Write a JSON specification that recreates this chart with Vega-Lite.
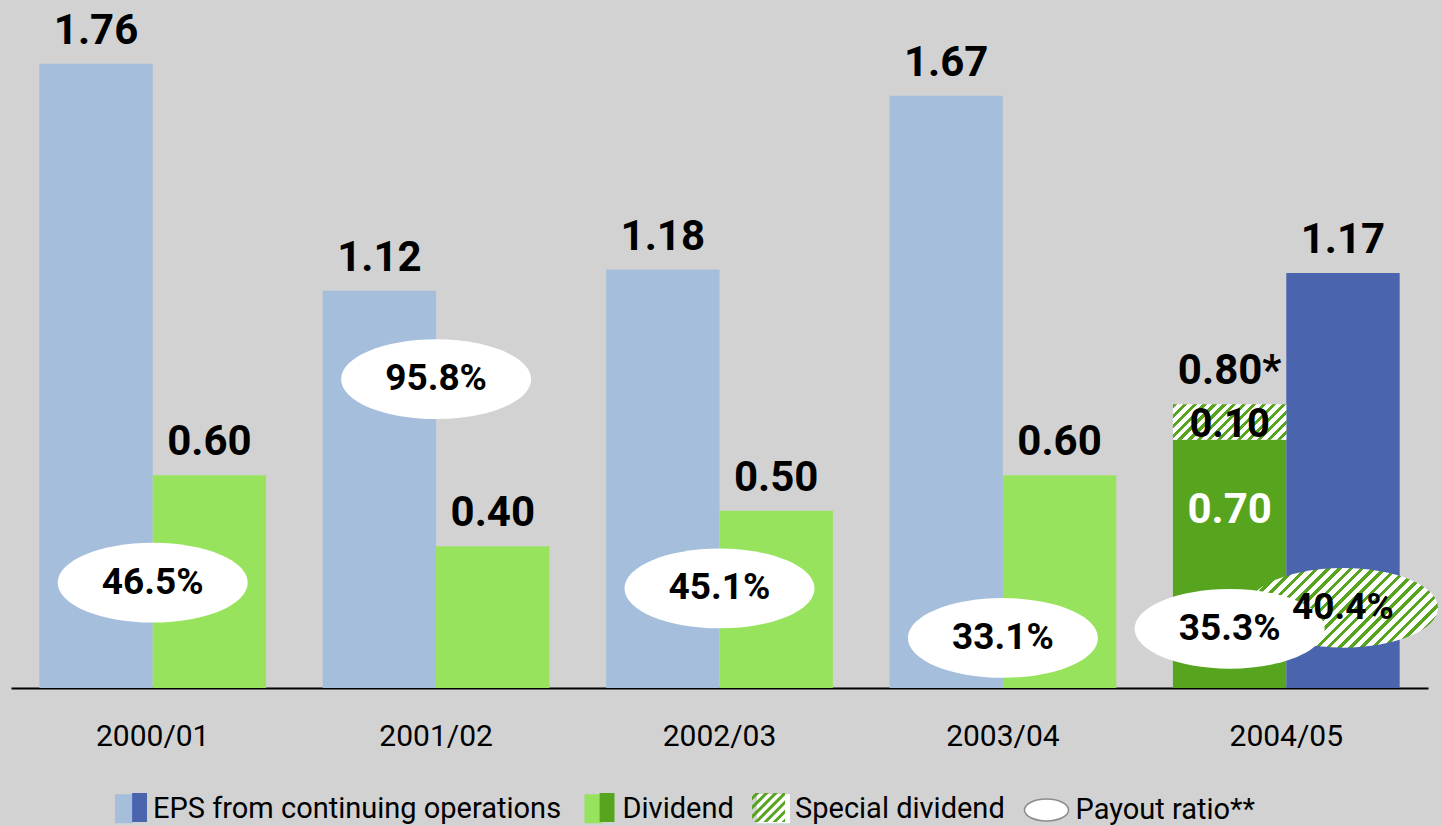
{
  "$schema": "https://vega.github.io/schema/vega-lite/v6.json",
  "width": 1417,
  "height": 688,
  "autosize": "none",
  "padding": {"left": 11, "top": 0, "right": 14, "bottom": 138},
  "background": "#d2d2d2",
  "config": {
    "view": {"stroke": null},
    "font": "Roboto",
    "axisX": {"domainColor": "black", "domainWidth": 2, "ticks": false, "tickSize": 0, "labelFontSize": 30, "labelColor": "black", "labelPadding": 33, "labelAngle": 0, "labelFont": "Roboto", "grid": false}
  },
  "datasets": {
    "bars": [
      {"year": "2000/01", "slot": "L", "part": "EPS", "shade": "EPS", "value": 1.76},
      {"year": "2000/01", "slot": "R", "part": "Dividend", "shade": "Dividend", "value": 0.60},
      {"year": "2001/02", "slot": "L", "part": "EPS", "shade": "EPS", "value": 1.12},
      {"year": "2001/02", "slot": "R", "part": "Dividend", "shade": "Dividend", "value": 0.40},
      {"year": "2002/03", "slot": "L", "part": "EPS", "shade": "EPS", "value": 1.18},
      {"year": "2002/03", "slot": "R", "part": "Dividend", "shade": "Dividend", "value": 0.50},
      {"year": "2003/04", "slot": "L", "part": "EPS", "shade": "EPS", "value": 1.67},
      {"year": "2003/04", "slot": "R", "part": "Dividend", "shade": "Dividend", "value": 0.60},
      {"year": "2004/05", "slot": "L", "part": "Dividend", "shade": "Dividend 2004/05", "value": 0.70},
      {"year": "2004/05", "slot": "L", "part": "Special dividend", "shade": "Special dividend", "value": 0.10},
      {"year": "2004/05", "slot": "R", "part": "EPS", "shade": "EPS 2004/05", "value": 1.17}
    ],
    "tops": [
      {"year": "2000/01", "slot": "L", "total": 1.76, "label": "1.76"},
      {"year": "2000/01", "slot": "R", "total": 0.60, "label": "0.60"},
      {"year": "2001/02", "slot": "L", "total": 1.12, "label": "1.12"},
      {"year": "2001/02", "slot": "R", "total": 0.40, "label": "0.40"},
      {"year": "2002/03", "slot": "L", "total": 1.18, "label": "1.18"},
      {"year": "2002/03", "slot": "R", "total": 0.50, "label": "0.50"},
      {"year": "2003/04", "slot": "L", "total": 1.67, "label": "1.67"},
      {"year": "2003/04", "slot": "R", "total": 0.60, "label": "0.60"},
      {"year": "2004/05", "slot": "L", "total": 0.80, "label": "0.80*"},
      {"year": "2004/05", "slot": "R", "total": 1.17, "label": "1.17"}
    ],
    "inside": [
      {"year": "2004/05", "slot": "L", "segment": "Special dividend", "top": 0.80, "label": "0.10"},
      {"year": "2004/05", "slot": "L", "segment": "Dividend", "top": 0.70, "label": "0.70"}
    ],
    "payout": [
      {"year": "2000/01", "slot": "C", "basis": "regular", "ratio": 0.465},
      {"year": "2001/02", "slot": "C", "basis": "regular", "ratio": 0.958},
      {"year": "2002/03", "slot": "C", "basis": "regular", "ratio": 0.451},
      {"year": "2003/04", "slot": "C", "basis": "regular", "ratio": 0.331},
      {"year": "2004/05", "slot": "R", "basis": "incl. special", "ratio": 0.404},
      {"year": "2004/05", "slot": "L", "basis": "regular", "ratio": 0.353}
    ],
    "legend": [
      {"entry": "EPS from continuing operations"},
      {"entry": "Dividend"},
      {"entry": "Special dividend"},
      {"entry": "Payout ratio**"}
    ]
  },
  "layer": [
    {
      "layer": [
        {
          "data": {"name": "bars"},
          "transform": [
            {"stack": "value", "groupby": ["year", "slot"], "sort": [{"field": "part", "order": "ascending"}], "as": ["v0", "v1"]},
            {"filter": "datum.part !== 'Special dividend'"}
          ],
          "mark": {"type": "bar"},
          "encoding": {
            "x": {"field": "year", "type": "nominal", "title": null, "scale": {"paddingInner": 0.2, "paddingOuter": 0.1}},
            "xOffset": {"field": "slot", "type": "nominal", "scale": {"domain": ["L", "R"], "paddingInner": 0, "paddingOuter": 0}},
            "y": {"field": "v1", "type": "quantitative", "scale": {"domain": [0, 1.94], "nice": false, "zero": true}, "axis": null},
            "y2": {"field": "v0"},
            "fill": {
              "field": "shade", "type": "nominal", "legend": null,
              "scale": {
                "domain": ["EPS", "EPS 2004/05", "Dividend", "Dividend 2004/05"],
                "range": ["#a5bedc", "#4a64ad", "#98e35d", "#57a41e"]
              }
            }
          }
        },
        {
          "data": {"name": "bars"},
          "transform": [
            {"stack": "value", "groupby": ["year", "slot"], "sort": [{"field": "part", "order": "ascending"}], "as": ["v0", "v1"]},
            {"filter": "datum.part === 'Special dividend'"}
          ],
          "mark": {"type": "bar",
            "fill": {"gradient": "linear", "x1": 0, "y1": 0, "x2": 1.196, "y2": 0.374, "stops": [
              {"offset": 0, "color": "#57a41e"}, {"offset": 0.028, "color": "#57a41e"}, {"offset": 0.028, "color": "#ffffff"}, {"offset": 0.0667, "color": "#ffffff"},
              {"offset": 0.0667, "color": "#57a41e"}, {"offset": 0.0947, "color": "#57a41e"}, {"offset": 0.0947, "color": "#ffffff"}, {"offset": 0.1333, "color": "#ffffff"},
              {"offset": 0.1333, "color": "#57a41e"}, {"offset": 0.1613, "color": "#57a41e"}, {"offset": 0.1613, "color": "#ffffff"}, {"offset": 0.2, "color": "#ffffff"},
              {"offset": 0.2, "color": "#57a41e"}, {"offset": 0.228, "color": "#57a41e"}, {"offset": 0.228, "color": "#ffffff"}, {"offset": 0.2667, "color": "#ffffff"},
              {"offset": 0.2667, "color": "#57a41e"}, {"offset": 0.2947, "color": "#57a41e"}, {"offset": 0.2947, "color": "#ffffff"}, {"offset": 0.3333, "color": "#ffffff"},
              {"offset": 0.3333, "color": "#57a41e"}, {"offset": 0.3613, "color": "#57a41e"}, {"offset": 0.3613, "color": "#ffffff"}, {"offset": 0.4, "color": "#ffffff"},
              {"offset": 0.4, "color": "#57a41e"}, {"offset": 0.428, "color": "#57a41e"}, {"offset": 0.428, "color": "#ffffff"}, {"offset": 0.4667, "color": "#ffffff"},
              {"offset": 0.4667, "color": "#57a41e"}, {"offset": 0.4947, "color": "#57a41e"}, {"offset": 0.4947, "color": "#ffffff"}, {"offset": 0.5333, "color": "#ffffff"},
              {"offset": 0.5333, "color": "#57a41e"}, {"offset": 0.5613, "color": "#57a41e"}, {"offset": 0.5613, "color": "#ffffff"}, {"offset": 0.6, "color": "#ffffff"},
              {"offset": 0.6, "color": "#57a41e"}, {"offset": 0.628, "color": "#57a41e"}, {"offset": 0.628, "color": "#ffffff"}, {"offset": 0.6667, "color": "#ffffff"},
              {"offset": 0.6667, "color": "#57a41e"}, {"offset": 0.6947, "color": "#57a41e"}, {"offset": 0.6947, "color": "#ffffff"}, {"offset": 0.7333, "color": "#ffffff"},
              {"offset": 0.7333, "color": "#57a41e"}, {"offset": 0.7613, "color": "#57a41e"}, {"offset": 0.7613, "color": "#ffffff"}, {"offset": 0.8, "color": "#ffffff"},
              {"offset": 0.8, "color": "#57a41e"}, {"offset": 0.828, "color": "#57a41e"}, {"offset": 0.828, "color": "#ffffff"}, {"offset": 0.8667, "color": "#ffffff"},
              {"offset": 0.8667, "color": "#57a41e"}, {"offset": 0.8947, "color": "#57a41e"}, {"offset": 0.8947, "color": "#ffffff"}, {"offset": 0.9333, "color": "#ffffff"},
              {"offset": 0.9333, "color": "#57a41e"}, {"offset": 0.9613, "color": "#57a41e"}, {"offset": 0.9613, "color": "#ffffff"}, {"offset": 1, "color": "#ffffff"}
            ]}
          },
          "encoding": {
            "x": {"field": "year", "type": "nominal", "title": null},
            "xOffset": {"field": "slot", "type": "nominal"},
            "y": {"field": "v1", "type": "quantitative", "axis": null},
            "y2": {"field": "v0"}
          }
        },
        {
          "data": {"name": "tops"},
          "mark": {"type": "text", "font": "Roboto", "fontSize": 42, "fontWeight": "bold", "dy": -20, "baseline": "alphabetic", "align": "center", "color": "black"},
          "encoding": {
            "x": {"field": "year", "type": "nominal", "title": null},
            "xOffset": {"field": "slot", "type": "nominal"},
            "y": {"field": "total", "type": "quantitative", "axis": null},
            "text": {"field": "label"}
          }
        },
        {
          "data": {"name": "inside"},
          "transform": [{"filter": "datum.segment === 'Special dividend'"}],
          "mark": {"type": "text", "font": "Roboto", "fontSize": 40, "fontWeight": "bold", "dy": 1, "baseline": "top", "align": "center", "color": "black"},
          "encoding": {
            "x": {"field": "year", "type": "nominal", "title": null},
            "xOffset": {"field": "slot", "type": "nominal"},
            "y": {"field": "top", "type": "quantitative", "axis": null},
            "text": {"field": "label"}
          }
        },
        {
          "data": {"name": "inside"},
          "transform": [{"filter": "datum.segment === 'Dividend'"}],
          "mark": {"type": "text", "font": "Roboto", "fontSize": 42, "fontWeight": "bold", "dy": 50, "baseline": "top", "align": "center", "color": "white"},
          "encoding": {
            "x": {"field": "year", "type": "nominal", "title": null},
            "xOffset": {"field": "slot", "type": "nominal"},
            "y": {"field": "top", "type": "quantitative", "axis": null},
            "text": {"field": "label"}
          }
        },
        {
          "data": {"name": "legend"},
          "mark": {"type": "point", "filled": true, "opacity": 1, "clip": true},
          "encoding": {
            "y": {"datum": -1, "type": "quantitative", "axis": null},
            "color": {
              "field": "entry", "type": "nominal",
              "scale": {
                "domain": ["EPS from continuing operations", "Dividend", "Special dividend", "Payout ratio**"],
                "range": ["#a5bedc", "#98e35d", "#ffffff", "#ffffff"]
              },
              "legend": {
                "orient": "none", "legendX": 96.5, "legendY": 784.5, "direction": "horizontal", "title": null,
                "labelFont": "Roboto", "labelFontSize": 29, "labelColor": "black", "labelOffset": -2.5, "labelLimit": 0,
                "symbolSize": 2116, "symbolOpacity": 1, "symbolStrokeWidth": 1.5, "columnPadding": 15.5, "padding": 0
              }
            },
            "shape": {
              "field": "entry", "type": "nominal",
              "scale": {
                "domain": ["EPS from continuing operations", "Dividend", "Special dividend", "Payout ratio**"],
                "range": ["M-0.717,-0.63H0.07V0.63H-0.717Z", "M-0.717,-0.63H0.07V0.63H-0.717Z", "M-0.717,-0.63H0.717V0.63H-0.717Z", "M-1.283,0A0.957,0.478,0,1,1,0.631,0A0.957,0.478,0,1,1,-1.283,0Z"]
              }
            },
            "stroke": {
              "field": "entry", "type": "nominal",
              "scale": {
                "domain": ["EPS from continuing operations", "Dividend", "Special dividend", "Payout ratio**"],
                "range": ["transparent", "transparent", "transparent", "#8c8c8c"]
              }
            }
          }
        },
        {
          "data": {"name": "legend"},
          "mark": {"type": "point", "filled": true, "opacity": 1, "clip": true},
          "encoding": {
            "y": {"datum": -1, "type": "quantitative", "axis": null},
            "fill": {
              "field": "entry", "type": "nominal",
              "scale": {
                "domain": ["Dividend", "EPS from continuing operations", "Payout ratio**", "Special dividend"],
                "range": ["#57a41e", "#4a64ad", "transparent", "#57a41e"]
              },
              "legend": {
                "values": ["EPS from continuing operations", "Dividend", "Special dividend", "Payout ratio**"],
                "orient": "none", "legendX": 96.5, "legendY": 784.5, "direction": "horizontal", "title": null,
                "labelFont": "Roboto", "labelFontSize": 29, "labelColor": "black", "labelOpacity": 0, "labelOffset": -2.5, "labelLimit": 0,
                "symbolSize": 2116, "symbolOpacity": 1, "symbolStrokeWidth": 0, "columnPadding": 15.5, "padding": 0
              }
            },
            "shape": {
              "field": "entry", "type": "nominal",
              "scale": {
                "domain": ["Dividend", "EPS from continuing operations", "Payout ratio**", "Special dividend"],
                "range": [
                  "M0.07,-0.63H0.717V0.63H0.07Z",
                  "M0.07,-0.63H0.717V0.63H0.07Z",
                  "M0,0L0.01,0L0,0.01Z",
                  "M-0.57,-0.63L-0.39,-0.63L-0.717,-0.303L-0.717,-0.483ZM-0.17,-0.63L0.01,-0.63L-0.717,0.097L-0.717,-0.083ZM0.23,-0.63L0.41,-0.63L-0.717,0.497L-0.717,0.317ZM0.63,-0.63L0.717,-0.63L0.717,-0.537L-0.45,0.63L-0.63,0.63ZM0.717,-0.317L0.717,-0.137L-0.05,0.63L-0.23,0.63ZM0.717,0.083L0.717,0.263L0.35,0.63L0.17,0.63ZM0.57,0.63L0.717,0.483L0.717,0.63Z"
                ]
              }
            }
          }
        }
      ],
      "resolve": {"scale": {"fill": "independent", "shape": "independent", "color": "independent", "stroke": "independent"}}
    },
    {
      "layer": [
        {
          "data": {"name": "payout"},
          "transform": [{"filter": "datum.slot === 'C'"}],
          "mark": {"type": "point", "shape": "M-1,0A1,0.42,0,1,1,1,0A1,0.42,0,1,1,-1,0Z", "size": 36100, "filled": true, "fill": "#ffffff", "opacity": 1, "strokeWidth": 0},
          "encoding": {
            "x": {"field": "year", "type": "nominal", "title": null},
            "y": {"field": "ratio", "type": "quantitative", "scale": {"domain": [0.2097, 1.877], "zero": false, "nice": false}, "axis": null}
          }
        },
        {
          "data": {"name": "payout"},
          "transform": [{"filter": "datum.basis === 'incl. special'"}],
          "mark": {"type": "point", "shape": "M-1,0A1,0.42,0,1,1,1,0A1,0.42,0,1,1,-1,0Z", "size": 36100, "filled": true, "opacity": 1, "strokeWidth": 0,
            "fill": {"gradient": "linear", "x1": 0, "y1": 0, "x2": 1.207, "y2": 0.507, "stops": [
              {"offset": 0, "color": "#57a41e"}, {"offset": 0.0167, "color": "#57a41e"}, {"offset": 0.0167, "color": "#ffffff"}, {"offset": 0.0417, "color": "#ffffff"},
              {"offset": 0.0417, "color": "#57a41e"}, {"offset": 0.0583, "color": "#57a41e"}, {"offset": 0.0583, "color": "#ffffff"}, {"offset": 0.0833, "color": "#ffffff"},
              {"offset": 0.0833, "color": "#57a41e"}, {"offset": 0.1, "color": "#57a41e"}, {"offset": 0.1, "color": "#ffffff"}, {"offset": 0.125, "color": "#ffffff"},
              {"offset": 0.125, "color": "#57a41e"}, {"offset": 0.1417, "color": "#57a41e"}, {"offset": 0.1417, "color": "#ffffff"}, {"offset": 0.1667, "color": "#ffffff"},
              {"offset": 0.1667, "color": "#57a41e"}, {"offset": 0.1833, "color": "#57a41e"}, {"offset": 0.1833, "color": "#ffffff"}, {"offset": 0.2083, "color": "#ffffff"},
              {"offset": 0.2083, "color": "#57a41e"}, {"offset": 0.225, "color": "#57a41e"}, {"offset": 0.225, "color": "#ffffff"}, {"offset": 0.25, "color": "#ffffff"},
              {"offset": 0.25, "color": "#57a41e"}, {"offset": 0.2667, "color": "#57a41e"}, {"offset": 0.2667, "color": "#ffffff"}, {"offset": 0.2917, "color": "#ffffff"},
              {"offset": 0.2917, "color": "#57a41e"}, {"offset": 0.3083, "color": "#57a41e"}, {"offset": 0.3083, "color": "#ffffff"}, {"offset": 0.3333, "color": "#ffffff"},
              {"offset": 0.3333, "color": "#57a41e"}, {"offset": 0.35, "color": "#57a41e"}, {"offset": 0.35, "color": "#ffffff"}, {"offset": 0.375, "color": "#ffffff"},
              {"offset": 0.375, "color": "#57a41e"}, {"offset": 0.3917, "color": "#57a41e"}, {"offset": 0.3917, "color": "#ffffff"}, {"offset": 0.4167, "color": "#ffffff"},
              {"offset": 0.4167, "color": "#57a41e"}, {"offset": 0.4333, "color": "#57a41e"}, {"offset": 0.4333, "color": "#ffffff"}, {"offset": 0.4583, "color": "#ffffff"},
              {"offset": 0.4583, "color": "#57a41e"}, {"offset": 0.475, "color": "#57a41e"}, {"offset": 0.475, "color": "#ffffff"}, {"offset": 0.5, "color": "#ffffff"},
              {"offset": 0.5, "color": "#57a41e"}, {"offset": 0.5167, "color": "#57a41e"}, {"offset": 0.5167, "color": "#ffffff"}, {"offset": 0.5417, "color": "#ffffff"},
              {"offset": 0.5417, "color": "#57a41e"}, {"offset": 0.5583, "color": "#57a41e"}, {"offset": 0.5583, "color": "#ffffff"}, {"offset": 0.5833, "color": "#ffffff"},
              {"offset": 0.5833, "color": "#57a41e"}, {"offset": 0.6, "color": "#57a41e"}, {"offset": 0.6, "color": "#ffffff"}, {"offset": 0.625, "color": "#ffffff"},
              {"offset": 0.625, "color": "#57a41e"}, {"offset": 0.6417, "color": "#57a41e"}, {"offset": 0.6417, "color": "#ffffff"}, {"offset": 0.6667, "color": "#ffffff"},
              {"offset": 0.6667, "color": "#57a41e"}, {"offset": 0.6833, "color": "#57a41e"}, {"offset": 0.6833, "color": "#ffffff"}, {"offset": 0.7083, "color": "#ffffff"},
              {"offset": 0.7083, "color": "#57a41e"}, {"offset": 0.725, "color": "#57a41e"}, {"offset": 0.725, "color": "#ffffff"}, {"offset": 0.75, "color": "#ffffff"},
              {"offset": 0.75, "color": "#57a41e"}, {"offset": 0.7667, "color": "#57a41e"}, {"offset": 0.7667, "color": "#ffffff"}, {"offset": 0.7917, "color": "#ffffff"},
              {"offset": 0.7917, "color": "#57a41e"}, {"offset": 0.8083, "color": "#57a41e"}, {"offset": 0.8083, "color": "#ffffff"}, {"offset": 0.8333, "color": "#ffffff"},
              {"offset": 0.8333, "color": "#57a41e"}, {"offset": 0.85, "color": "#57a41e"}, {"offset": 0.85, "color": "#ffffff"}, {"offset": 0.875, "color": "#ffffff"},
              {"offset": 0.875, "color": "#57a41e"}, {"offset": 0.8917, "color": "#57a41e"}, {"offset": 0.8917, "color": "#ffffff"}, {"offset": 0.9167, "color": "#ffffff"},
              {"offset": 0.9167, "color": "#57a41e"}, {"offset": 0.9333, "color": "#57a41e"}, {"offset": 0.9333, "color": "#ffffff"}, {"offset": 0.9583, "color": "#ffffff"},
              {"offset": 0.9583, "color": "#57a41e"}, {"offset": 0.975, "color": "#57a41e"}, {"offset": 0.975, "color": "#ffffff"}, {"offset": 1, "color": "#ffffff"}
            ]}
          },
          "encoding": {
            "x": {"field": "year", "type": "nominal", "title": null},
            "xOffset": {"field": "slot", "type": "nominal"},
            "y": {"field": "ratio", "type": "quantitative", "axis": null}
          }
        },
        {
          "data": {"name": "payout"},
          "transform": [{"filter": "datum.slot !== 'C' && datum.basis === 'regular'"}],
          "mark": {"type": "point", "shape": "M-1,0A1,0.42,0,1,1,1,0A1,0.42,0,1,1,-1,0Z", "size": 36100, "filled": true, "fill": "#ffffff", "opacity": 1, "strokeWidth": 0},
          "encoding": {
            "x": {"field": "year", "type": "nominal", "title": null},
            "xOffset": {"field": "slot", "type": "nominal"},
            "y": {"field": "ratio", "type": "quantitative", "axis": null}
          }
        },
        {
          "data": {"name": "payout"},
          "transform": [{"filter": "datum.slot === 'C'"}],
          "mark": {"type": "text", "font": "Roboto", "fontSize": 37, "fontWeight": "bold", "baseline": "middle", "align": "center", "color": "black"},
          "encoding": {
            "x": {"field": "year", "type": "nominal", "title": null},
            "y": {"field": "ratio", "type": "quantitative", "axis": null},
            "text": {"field": "ratio", "type": "quantitative", "format": ".1%"}
          }
        },
        {
          "data": {"name": "payout"},
          "transform": [{"filter": "datum.slot !== 'C'"}],
          "mark": {"type": "text", "font": "Roboto", "fontSize": 37, "fontWeight": "bold", "baseline": "middle", "align": "center", "color": "black"},
          "encoding": {
            "x": {"field": "year", "type": "nominal", "title": null},
            "xOffset": {"field": "slot", "type": "nominal"},
            "y": {"field": "ratio", "type": "quantitative", "axis": null},
            "text": {"field": "ratio", "type": "quantitative", "format": ".1%"}
          }
        }
      ]
    }
  ],
  "resolve": {"scale": {"y": "independent"}}
}
